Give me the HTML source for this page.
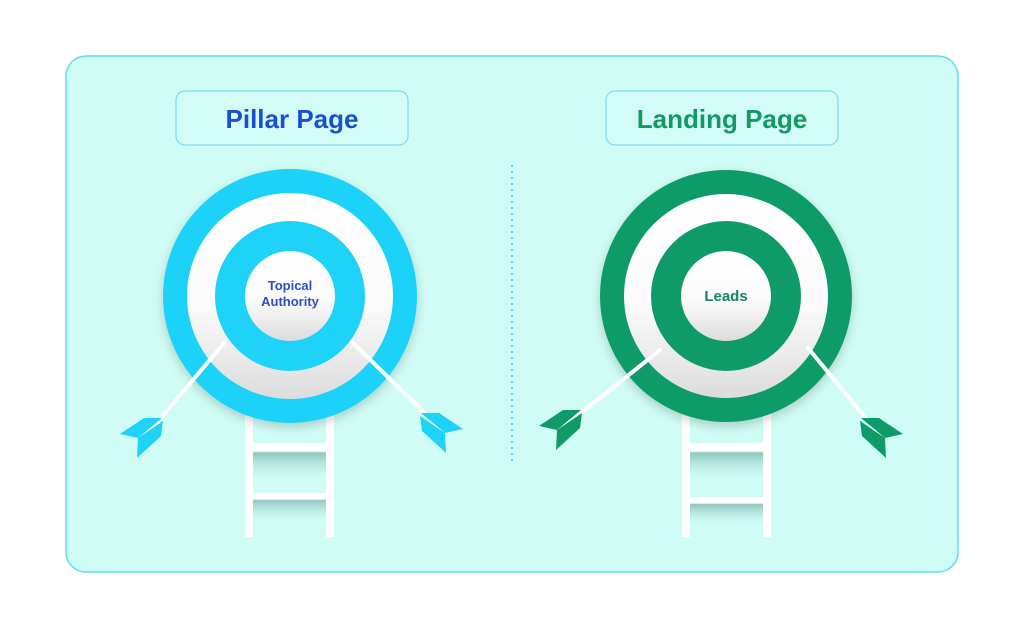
<!DOCTYPE html>
<html><head><meta charset="utf-8"><style>
html,body{margin:0;padding:0;background:#fff;}
svg{display:block}
</style></head><body>
<svg width="1024" height="629" viewBox="0 0 1024 629" xmlns="http://www.w3.org/2000/svg">
<defs>
<linearGradient id="wg" x1="0" y1="0" x2="0" y2="1">
<stop offset="0" stop-color="#ffffff"/><stop offset="0.55" stop-color="#fbfbfb"/><stop offset="1" stop-color="#dcdcdc"/>
</linearGradient>
<linearGradient id="rung" x1="0" y1="0" x2="0" y2="1">
<stop offset="0" stop-color="#ffffff"/><stop offset="0.2" stop-color="#ffffff"/><stop offset="0.25" stop-color="#8fc8c0"/><stop offset="1" stop-color="#cffcf4" stop-opacity="0"/>
</linearGradient>
<filter id="sh" x="-20%" y="-20%" width="140%" height="140%"><feDropShadow dx="0" dy="4" stdDeviation="5" flood-color="#000" flood-opacity="0.18"/></filter>
</defs>
<rect x="66" y="56" width="892" height="516" rx="20" fill="#cffcf4" stroke="#62dcec" stroke-width="1.5"/>
<line x1="512" y1="165" x2="512" y2="465" stroke="#3fc6e6" stroke-width="1.5" stroke-dasharray="2 4"/>
<!-- headers -->
<rect x="176" y="91" width="232" height="54" rx="9" fill="#d4fcf6" stroke="#7fdcea" stroke-width="1.2"/>
<text x="292" y="128" text-anchor="middle" font-family="Liberation Sans, sans-serif" font-weight="bold" font-size="26" fill="#1a4fd0">Pillar Page</text>
<rect x="606" y="91" width="232" height="54" rx="9" fill="#d4fcf6" stroke="#7fdcea" stroke-width="1.2"/>
<text x="722" y="128" text-anchor="middle" font-family="Liberation Sans, sans-serif" font-weight="bold" font-size="26" fill="#119a66">Landing Page</text>
<!-- ladders -->
<g>
<rect x="245" y="415" width="88" height="122" fill="none"/>
<rect x="252" y="443" width="75" height="40" fill="url(#rung)"/>
<rect x="252" y="493" width="75" height="30" fill="url(#rung)"/>
<rect x="245" y="410" width="8" height="127" fill="#fff"/>
<rect x="326" y="410" width="8" height="127" fill="#fff"/>
<rect x="682" y="443" width="88" height="40" fill="url(#rung)"/>
<rect x="682" y="497" width="88" height="30" fill="url(#rung)"/>
<rect x="682" y="410" width="8" height="127" fill="#fff"/>
<rect x="763" y="410" width="8" height="127" fill="#fff"/>
</g>
<!-- cyan target -->
<g filter="url(#sh)">
<circle cx="290" cy="296" r="127" fill="#1ed2f8"/>
</g>
<circle cx="290" cy="296" r="103" fill="url(#wg)"/>
<circle cx="290" cy="296" r="75" fill="#1ed2f8"/>
<circle cx="290" cy="296" r="45" fill="url(#wg)"/>
<text x="290" y="290" text-anchor="middle" font-family="Liberation Sans, sans-serif" font-weight="bold" font-size="13" fill="#2a4fc0">Topical</text>
<text x="290" y="306" text-anchor="middle" font-family="Liberation Sans, sans-serif" font-weight="bold" font-size="13" fill="#2a4fc0">Authority</text>
<!-- green target -->
<g filter="url(#sh)">
<circle cx="726" cy="296" r="126" fill="#0f9b67"/>
</g>
<circle cx="726" cy="296" r="102" fill="url(#wg)"/>
<circle cx="726" cy="296" r="75" fill="#0f9b67"/>
<circle cx="726" cy="296" r="45" fill="url(#wg)"/>
<text x="726" y="301" text-anchor="middle" font-family="Liberation Sans, sans-serif" font-weight="bold" font-size="15" fill="#16855a">Leads</text>
<!-- shafts -->
<g stroke="#fff" stroke-width="4" stroke-linecap="round">
<line x1="145" y1="437" x2="224" y2="343"/>
<line x1="440" y1="428" x2="352" y2="342"/>
<line x1="566" y1="425" x2="660" y2="350"/>
<line x1="880" y1="435" x2="808" y2="348"/>
</g>
<!-- fletchings -->
<g id="fg" fill="#0f9b67">
<polygon points="539,426 563,410 581,410 557,430"/>
<polygon points="557,430 582,413 580,428 556,450"/>
</g>
<g fill="#1ed2f8" transform="translate(-419,8)">
<polygon points="539,426 563,410 581,410 557,430"/>
<polygon points="557,430 582,413 580,428 556,450"/>
</g>
<g fill="#1ed2f8" transform="translate(1002,3) scale(-1,1)">
<polygon points="539,426 563,410 581,410 557,430"/>
<polygon points="557,430 582,413 580,428 556,450"/>
</g>
<g fill="#0f9b67" transform="translate(1442,8) scale(-1,1)">
<polygon points="539,426 563,410 581,410 557,430"/>
<polygon points="557,430 582,413 580,428 556,450"/>
</g>
</svg>
</body></html>
